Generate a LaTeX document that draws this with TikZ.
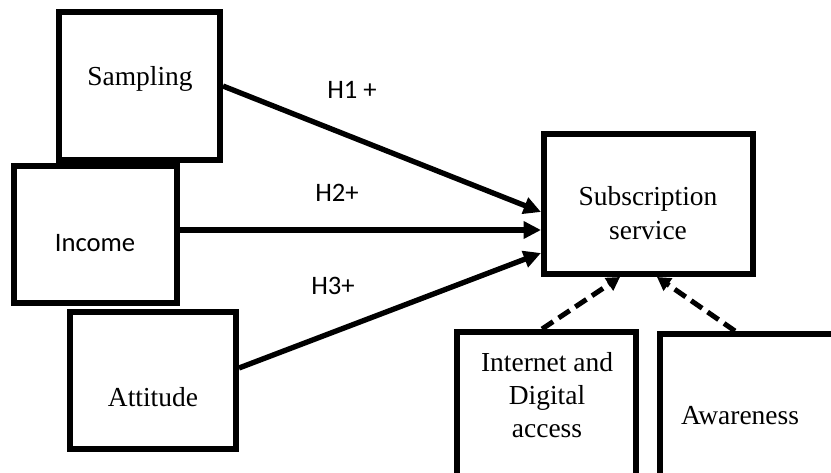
\documentclass[tikz,border=0pt]{standalone}
\usepackage{fontspec}
\setmainfont{Liberation Serif}
\newfontfamily\calfont{Carlito}
\usetikzlibrary{arrows.meta, positioning, calc}

\begin{document}
\begin{tikzpicture}[x=0.75pt, y=-0.75pt,
    box/.style={draw, line width=4.5pt, inner sep=0pt},
    boxtext/.style={font=\fontsize{20.6}{25}\selectfont, align=center, inner sep=0pt},
    hyptext/.style={font=\calfont\fontsize{20}{24}\selectfont, inner sep=0pt},
    path/.style={line width=4pt, -{Triangle[length=13pt,width=12.5pt]}},
    dpath/.style={line width=3.75pt, dash pattern=on 10pt off 5pt, -{Triangle[length=10pt,width=11pt]}}]
        \clip (0,0) rectangle (831,472);
        % Predictor boxes
        \node[box, minimum width=120.75pt, minimum height=111pt] (samp) at (139.5,86) {};
        \node[box, minimum width=122.25pt, minimum height=102.75pt] (inc) at (95.5,234.5) {};
        \node[box, minimum width=124.5pt, minimum height=102.75pt] (att) at (153,380.5) {};
        % Outcome and moderating boxes
        \node[box, minimum width=156.75pt, minimum height=105pt] (sub) at (648.5,204) {};
        \node[box, minimum width=134.25pt, minimum height=116.25pt] (net) at (546.5,409.5) {};
        \node[box, minimum width=140.25pt, minimum height=114.75pt] (awa) at (753.5,410.5) {};
        % Box texts
        \node[boxtext] (samp-t) at (140,78.5) {Sampling};
        \node[hyptext] (inc-t) at (95,243.5) {Income};
        \node[boxtext] (att-t) at (153,397) {Attitude};
        \node[boxtext] (sub-t) at (648,213) {Subscription\\service};
        \node[boxtext, font=\fontsize{20.6}{24.5}\selectfont] (net-t) at (547,395) {Internet and\\Digital\\access};
        \node[boxtext] (awa-t) at (740,416) {Awareness};
        % Hypotheses
        \draw[path] (samp.east) -- ($(sub.west)+(0,8)$);
        \draw[path] ($(inc.east)+(0,-4.5)$) -- ($(sub.west)+(0,26)$);
        \draw[path] ($(att.east)+(0,-12.5)$) -- ($(sub.west)+(0,49)$);
        \node[hyptext] (h1) at (352,90) {H1 +};
        \node[hyptext] (h2) at (337,193) {H2+};
        \node[hyptext] (h3) at (333,285.5) {H3+};
        % Dashed influences
        \draw[dpath] ($(net.north)+(-4.5,0)$) -- ($(sub.south)+(-28.5,0)$);
        \draw[dpath] ($(awa.north)+(-18.5,0)$) -- ($(sub.south)+(8.5,0)$);
      \end{tikzpicture}
\end{document}
